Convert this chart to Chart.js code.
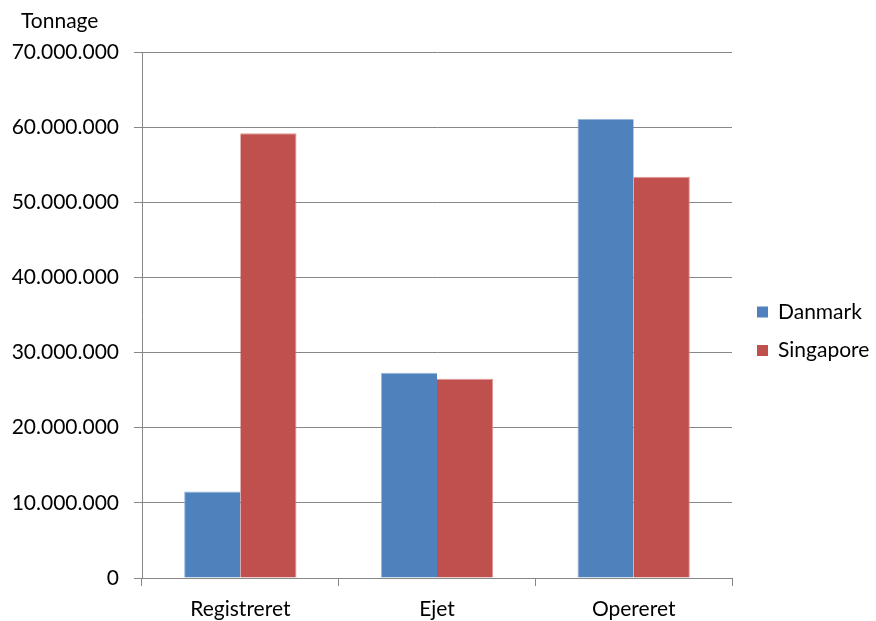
<!DOCTYPE html>
<html>
<head>
<meta charset="utf-8">
<script src="https://cdn.jsdelivr.net/npm/chart.js@4.4.1/dist/chart.umd.min.js"></script>
<style>
  html, body { margin: 0; padding: 0; background: #fff; }
  #wrap { width: 876px; height: 621px; position: relative; }
</style>
</head>
<body>
<div id="wrap"><canvas id="c" width="876" height="621"></canvas></div>
<script>
// Categories and series (tonnage)
const categories = ['Registreret', 'Ejet', 'Opereret'];
const danmark = [11500000, 27300000, 61100000];
const singapore = [59200000, 26500000, 53400000];
const seriesNames = ['Danmark', 'Singapore'];
const axisTitle = 'Tonnage';
const yMax = 70000000;
const yStep = 10000000;

const FONT = 'Lato, "Open Sans", sans-serif';
const FSIZE = 21;
const GRID = '#878787';

function fmt(v) {
  return String(Math.round(v)).replace(/\B(?=(\d{3})+(?!\d))/g, '.');
}

// Draws the axis title and a right-side legend
const extras = {
  id: 'extras',
  afterDraw(chart) {
    const ctx = chart.ctx;
    ctx.save();
    ctx.fillStyle = '#000';
    ctx.font = FSIZE + 'px ' + FONT;
    ctx.textBaseline = 'middle';
    ctx.textAlign = 'left';
    ctx.fillText(axisTitle, 21, 21);

    const ds = chart.data.datasets;
    const x0 = 757, y0 = 312, gap = 38.5, box = 11;
    ds.forEach((d, i) => {
      const y = y0 + i * gap;
      ctx.fillStyle = d.backgroundColor;
      ctx.fillRect(x0, y - box / 2, box, box);
      ctx.fillStyle = '#000';
      ctx.fillText(d.label, 778, y);
    });
    ctx.restore();
  }
};

new Chart(document.getElementById('c'), {
  type: 'bar',
  data: {
    labels: categories,
    datasets: [
      { label: seriesNames[0], data: danmark, backgroundColor: '#4F81BD',
        borderColor: 'rgba(140,175,220,0.9)', borderWidth: { top: 1, left: 1, right: 0, bottom: 0 } },
      { label: seriesNames[1], data: singapore, backgroundColor: '#C0504D',
        borderColor: 'rgba(225,140,138,0.9)', borderWidth: { top: 1, left: 0, right: 1, bottom: 0 } }
    ]
  },
  options: {
    responsive: false,
    animation: false,
    events: [],
    layout: { padding: { left: 0, right: 144, top: 52, bottom: 0 } },
    datasets: { bar: { categoryPercentage: 2 / 3.5, barPercentage: 1 } },
    plugins: {
      legend: { display: false },
      tooltip: { enabled: false },
      title: { display: false }
    },
    scales: {
      x: {
        grid: { display: true, drawOnChartArea: false, drawTicks: true, tickLength: 8,
                color: GRID, offset: true },
        border: { display: true, color: GRID, width: 1 },
        ticks: { color: '#000', font: { family: FONT, size: FSIZE }, padding: 11 },
        afterFit(s) { s.height = 43; }
      },
      y: {
        min: 0, max: yMax,
        grid: { color: GRID, tickLength: 8, lineWidth: 1 },
        border: { display: true, color: GRID, width: 1 },
        ticks: { stepSize: yStep, color: '#000', font: { family: FONT, size: FSIZE }, padding: 15,
                 callback: v => fmt(v) },
        afterFit(s) { s.width = 142; }
      }
    }
  },
  plugins: [extras]
});
</script>
</body>
</html>
